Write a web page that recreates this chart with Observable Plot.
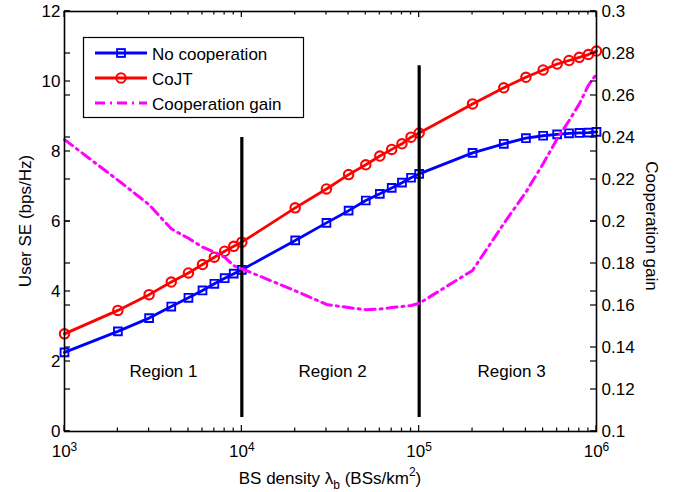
<!DOCTYPE html>
<html><head><meta charset="utf-8">
<script src="https://cdn.jsdelivr.net/npm/d3@7"></script>
<script src="https://cdn.jsdelivr.net/npm/@observablehq/plot@0.6"></script>
<style>body{margin:0;background:#fff}</style>
</head><body><div id="chart"></div>
<script>
// ---- data ----
const density = [1e3,2e3,3e3,4e3,5e3,6e3,7e3,8e3,9e3,1e4,2e4,3e4,4e4,5e4,6e4,7e4,8e4,9e4,1e5,2e5,3e5,4e5,5e5,6e5,7e5,8e5,9e5,1e6];
const seNoCoop = [2.26,2.86,3.24,3.57,3.82,4.03,4.22,4.38,4.51,4.62,5.46,5.96,6.31,6.60,6.79,6.96,7.11,7.25,7.36,7.96,8.22,8.38,8.45,8.49,8.52,8.53,8.54,8.56];
const seCoJT = [2.79,3.46,3.91,4.27,4.53,4.77,4.98,5.15,5.29,5.41,6.39,6.93,7.34,7.62,7.87,8.06,8.22,8.41,8.53,9.36,9.82,10.12,10.33,10.50,10.60,10.69,10.77,10.87];
const coopGain = [0.239,0.2197,0.208,0.1965,0.192,0.1878,0.1854,0.183,0.179,0.1775,0.167,0.1605,0.159,0.158,0.1583,0.159,0.1595,0.160,0.161,0.1767,0.199,0.214,0.2275,0.2394,0.248,0.256,0.2648,0.2703];
const seriesNames = ["No cooperation","CoJT","Cooperation gain"];
const seriesColors = ["#0000ff","#ff0000","#ff00ff"];
const xDomain = [1e3,1e6];
const xDecades = [1e3,1e4,1e5,1e6];
const xMinor = [2e3,3e3,4e3,5e3,6e3,7e3,8e3,9e3,2e4,3e4,4e4,5e4,6e4,7e4,8e4,9e4,2e5,3e5,4e5,5e5,6e5,7e5,8e5,9e5];
const seDomain = [0,12];
const seTicks = [0,2,4,6,8,10,12];
const gainDomain = [0.1,0.3];
const gainTicks = [0.1,0.12,0.14,0.16,0.18,0.2,0.22,0.24,0.26,0.28,0.3];
const boundaries = [1e4,1e5];
const boundaryTop = [8.4,10.45];
const boundaryBottom = [0.4,0.4];
const regionNames = ["Region 1","Region 2","Region 3"];
const regionX = [3615,32500,332000];
const regionY = [1.7,1.7,1.7];

// map gain (right axis) onto the SE (left) scale
const toSE = g => (g - gainDomain[0]) / (gainDomain[1] - gainDomain[0]) * (seDomain[1] - seDomain[0]) + seDomain[0];
const rows = density.map((d,i) => ({density:d, noCoop:seNoCoop[i], cojt:seCoJT[i], gainY:toSE(coopGain[i])}));
const bounds = boundaries.map((b,i) => ({x:b, y1:boundaryBottom[i], y2:boundaryTop[i]}));
const regions = regionNames.map((n,i) => ({name:n, x:regionX[i], y:regionY[i]}));
const gainPos = gainTicks.map(toSE);
const dash = "10,5,2,5";

const W = 683, H = 492, ML = 64, MR = 87, MT = 11, MB = 61;
const chart = Plot.plot({
  width: W, height: H,
  marginLeft: ML, marginRight: MR, marginTop: MT, marginBottom: MB,
  style: {fontFamily: "'Liberation Sans', Arial, sans-serif", fontSize: "17px", background: "white", color: "black"},
  x: {type: "log", domain: xDomain},
  y: {domain: seDomain},
  marks: [
    Plot.axisX({anchor: "bottom", ticks: xDecades, tickSize: 0, tickPadding: 13, tickFormat: d => "10^" + Math.round(Math.log10(d)), label: null}),
    Plot.axisY({anchor: "left", ticks: seTicks, tickSize: 0, tickPadding: 4, label: null}),
    Plot.axisY({anchor: "right", ticks: gainPos, tickSize: 0, tickPadding: 5, label: null,
      tickFormat: d => String(+gainTicks[gainPos.indexOf(d)].toFixed(2))}),
    // series
    Plot.line(rows, {x: "density", y: "noCoop", stroke: seriesColors[0], strokeWidth: 2.8}),
    Plot.dot(rows, {x: "density", y: "noCoop", symbol: "square", r: 4.4, stroke: seriesColors[0], strokeWidth: 1.9, fill: "none"}),
    Plot.line(rows, {x: "density", y: "cojt", stroke: seriesColors[1], strokeWidth: 2.8}),
    Plot.dot(rows, {x: "density", y: "cojt", r: 4.7, stroke: seriesColors[1], strokeWidth: 2.1, fill: "none"}),
    Plot.ruleX(bounds, {x: "x", y1: "y1", y2: "y2", stroke: "black", strokeWidth: 3.2}),
    Plot.line(rows, {x: "density", y: "gainY", stroke: seriesColors[2], strokeWidth: 3, strokeDasharray: dash}),
    Plot.text(regions, {x: "x", y: "y", text: "name", fill: "black", fontSize: 17}),
    Plot.frame({stroke: "black", strokeWidth: 1.6})
  ]
});
document.getElementById("chart").appendChild(chart);

const svg = d3.select(chart);
const sx = chart.scale("x"), sy = chart.scale("y");
const x0 = ML, x1 = W - MR, y0 = MT, y1 = H - MB;

// inward ticks (MATLAB box style) using the plot's own scales
const tg = svg.append("g").attr("stroke", "black").attr("stroke-width", 1.2);
const vt = (v, len) => {
  const px = sx.apply(v);
  tg.append("line").attr("x1", px).attr("x2", px).attr("y1", y1).attr("y2", y1 - len);
  tg.append("line").attr("x1", px).attr("x2", px).attr("y1", y0).attr("y2", y0 + len);
};
xDecades.forEach(v => vt(v, 6));
xMinor.forEach(v => vt(v, 3.5));
const ht = v => {
  const py = sy.apply(v);
  tg.append("line").attr("x1", x0).attr("x2", x0 + 6).attr("y1", py).attr("y2", py);
  tg.append("line").attr("x1", x1).attr("x2", x1 - 6).attr("y1", py).attr("y2", py);
};
seTicks.forEach(ht);
gainPos.forEach(ht);

// superscripts on x tick labels
svg.selectAll('g[aria-label="x-axis tick label"] text').each(function() {
  const t = this.textContent;
  if (!t || t.indexOf("^") < 0) return;
  const [base, exp] = t.split("^");
  const el = d3.select(this);
  el.text(base);
  el.append("tspan").attr("dy", "-0.5em").attr("font-size", "12px").text(exp);
});

// axis titles
svg.append("text").attr("transform", "translate(31,221) rotate(-90)")
  .attr("text-anchor", "middle").attr("fill", "black").attr("font-size", 17).text("User SE (bps/Hz)");
svg.append("text").attr("transform", "translate(646,226) rotate(90)")
  .attr("text-anchor", "middle").attr("fill", "black").attr("font-size", 17).text("Cooperation gain");
const xl = svg.append("text").attr("x", 330).attr("y", 484).attr("text-anchor", "middle").attr("fill", "black").attr("font-size", 17);
xl.append("tspan").text("BS density \u03bb");
xl.append("tspan").attr("dy", 5).attr("font-size", 12).text("b");
xl.append("tspan").attr("dy", -5).text(" (BSs/km");
xl.append("tspan").attr("dy", -8).attr("font-size", 12).text("2");
xl.append("tspan").attr("dy", 8).text(")");

// legend
const lg = svg.append("g");
lg.append("rect").attr("x", 83.5).attr("y", 37.5).attr("width", 220).attr("height", 80)
  .attr("fill", "white").attr("stroke", "black").attr("stroke-width", 1.2);
seriesNames.forEach((name, i) => {
  const cy = 53 + i * 25;
  lg.append("line").attr("x1", 95).attr("x2", 147).attr("y1", cy).attr("y2", cy)
    .attr("stroke", seriesColors[i]).attr("stroke-width", i === 2 ? 3 : 2.8)
    .attr("stroke-dasharray", i === 2 ? dash : null);
  if (i === 0) lg.append("rect").attr("x", 121 - 3.9).attr("y", cy - 3.9).attr("width", 7.8).attr("height", 7.8)
    .attr("fill", "none").attr("stroke", seriesColors[i]).attr("stroke-width", 1.9);
  if (i === 1) lg.append("circle").attr("cx", 121).attr("cy", cy).attr("r", 4.7)
    .attr("fill", "none").attr("stroke", seriesColors[i]).attr("stroke-width", 2.1);
  lg.append("text").attr("x", 152).attr("y", cy + 6.5).attr("text-anchor", "start")
    .attr("fill", "black").attr("font-size", 17).text(name);
});
</script>
</body></html>
